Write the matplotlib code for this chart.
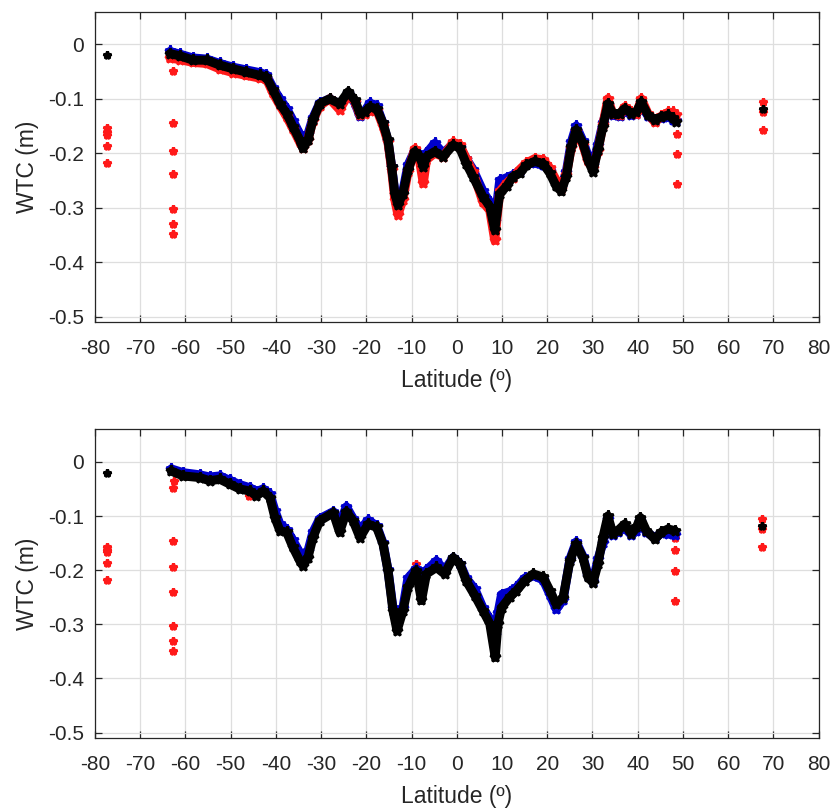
import matplotlib
matplotlib.use("Agg")
import matplotlib.pyplot as plt
from matplotlib.ticker import FormatStrFormatter

plt.rcParams['font.family'] = ['Liberation Sans', 'DejaVu Sans']
plt.rcParams['axes.unicode_minus'] = False

# ---- top panel: main track (lat, WTC in m) ----
lat_top = [-63.4, -61.2, -58.3, -55.3, -52.4, -49.4, -46.5, -43.5, -42.1, -40.6,
           -39.1, -37.6, -36.2, -34.7, -34.0, -32.9, -31.8, -30.3, -28.1, -25.9,
           -24.0, -22.5, -21.4, -20.3, -19.2, -17.7, -16.3, -15.2, -14.4, -13.7,
           -13.0, -11.9, -10.8, -9.3, -8.2, -7.4, -6.7, -4.9, -3.0, -0.8,
           0.7, 2.1, 3.6, 5.8, 7.3, 8.4, 9.5, 11.0, 12.4, 13.9,
           15.4, 17.2, 19.1, 20.6, 22.0, 23.1, 24.2, 25.3, 26.4, 27.9,
           29.0, 30.1, 31.2, 32.3, 33.4, 34.5, 36.0, 37.1, 38.6, 39.7,
           40.8, 42.3, 43.8, 45.2, 46.7, 47.8, 48.5]
top_black = [-0.017, -0.021, -0.029, -0.029, -0.038, -0.045, -0.051, -0.057, -0.060, -0.084,
             -0.109, -0.127, -0.151, -0.176, -0.191, -0.176, -0.139, -0.109, -0.100, -0.109,
             -0.087, -0.103, -0.127, -0.124, -0.115, -0.118, -0.145, -0.176, -0.225, -0.274,
             -0.295, -0.274, -0.231, -0.197, -0.206, -0.225, -0.206, -0.197, -0.206, -0.185,
             -0.191, -0.219, -0.243, -0.280, -0.298, -0.341, -0.274, -0.261, -0.243, -0.237,
             -0.222, -0.215, -0.219, -0.237, -0.261, -0.270, -0.243, -0.188, -0.157, -0.182,
             -0.212, -0.234, -0.194, -0.151, -0.109, -0.127, -0.127, -0.118, -0.127, -0.124,
             -0.106, -0.130, -0.139, -0.133, -0.130, -0.136, -0.142]
top_red = [-0.025, -0.028, -0.033, -0.035, -0.045, -0.052, -0.057, -0.062, -0.063, -0.090,
           -0.112, -0.133, -0.155, -0.180, -0.190, -0.175, -0.140, -0.113, -0.100, -0.120,
           -0.093, -0.105, -0.130, -0.128, -0.122, -0.120, -0.150, -0.180, -0.230, -0.285,
           -0.313, -0.285, -0.235, -0.192, -0.215, -0.255, -0.212, -0.200, -0.206, -0.180,
           -0.185, -0.210, -0.235, -0.290, -0.305, -0.360, -0.270, -0.255, -0.245, -0.230,
           -0.218, -0.210, -0.212, -0.228, -0.250, -0.265, -0.240, -0.190, -0.160, -0.185,
           -0.215, -0.228, -0.195, -0.148, -0.100, -0.128, -0.130, -0.115, -0.125, -0.128,
           -0.100, -0.128, -0.143, -0.132, -0.125, -0.125, -0.130]
top_blue = [-0.013, -0.018, -0.025, -0.027, -0.035, -0.042, -0.047, -0.052, -0.056, -0.080,
            -0.100, -0.118, -0.140, -0.165, -0.178, -0.165, -0.135, -0.108, -0.100, -0.110,
            -0.090, -0.108, -0.132, -0.122, -0.108, -0.113, -0.145, -0.178, -0.225, -0.270,
            -0.292, -0.270, -0.222, -0.195, -0.205, -0.215, -0.200, -0.182, -0.200, -0.183,
            -0.188, -0.210, -0.230, -0.270, -0.290, -0.325, -0.250, -0.245, -0.240, -0.232,
            -0.220, -0.218, -0.222, -0.232, -0.255, -0.262, -0.235, -0.180, -0.150, -0.178,
            -0.205, -0.222, -0.185, -0.145, -0.112, -0.130, -0.132, -0.122, -0.130, -0.128,
            -0.110, -0.132, -0.140, -0.135, -0.133, -0.138, -0.140]

# isolated points, top panel
top_red_pts_lat = [-77.4, -77.4, -77.4, -77.4, -77.4,
                   -62.8, -62.8, -62.8, -62.8, -62.8, -62.8, -62.8,
                   48.7, 48.7, 48.7, 67.8, 67.8, 67.8]
top_red_pts_wtc = [-0.154, -0.161, -0.167, -0.186, -0.218,
                   -0.049, -0.145, -0.195, -0.239, -0.302, -0.330, -0.349,
                   -0.164, -0.202, -0.257, -0.106, -0.124, -0.157]
top_black_pts_lat = [-77.4, 67.8]
top_black_pts_wtc = [-0.020, -0.119]

# ---- bottom panel: main track ----
lat_bot = [-63.1, -60.5, -56.8, -54.6, -52.4, -50.2, -48.0, -45.7, -44.3, -42.8,
           -41.3, -40.2, -39.1, -37.6, -36.2, -34.7, -34.0, -32.9, -31.8, -30.3,
           -27.3, -25.9, -24.4, -22.9, -21.4, -19.6, -17.7, -16.3, -15.2, -14.1,
           -13.2, -11.9, -10.8, -9.0, -7.8, -6.7, -4.5, -2.7, -0.8, 0.7,
           2.1, 4.0, 5.8, 7.3, 8.5, 9.1, 9.9, 11.7, 13.2, 15.0,
           16.9, 19.1, 20.6, 22.0, 23.5, 25.0, 26.4, 27.9, 29.0, 30.1,
           31.2, 32.3, 33.4, 34.5, 35.6, 37.1, 38.6, 39.7, 40.6, 41.9,
           43.8, 45.2, 46.7, 48.2]
bot_black = [-0.017, -0.026, -0.029, -0.035, -0.032, -0.041, -0.050, -0.054, -0.063, -0.054,
             -0.066, -0.103, -0.127, -0.130, -0.158, -0.183, -0.192, -0.177, -0.140, -0.109,
             -0.094, -0.130, -0.092, -0.109, -0.140, -0.115, -0.121, -0.152, -0.201, -0.275,
             -0.312, -0.275, -0.232, -0.201, -0.256, -0.207, -0.195, -0.207, -0.177, -0.189,
             -0.220, -0.247, -0.275, -0.299, -0.361, -0.299, -0.269, -0.250, -0.238, -0.220,
             -0.207, -0.213, -0.238, -0.263, -0.251, -0.183, -0.152, -0.177, -0.213, -0.223,
             -0.189, -0.140, -0.100, -0.133, -0.127, -0.115, -0.133, -0.121, -0.103, -0.127,
             -0.143, -0.130, -0.124, -0.127]
bot_blue = [-0.013, -0.020, -0.024, -0.028, -0.026, -0.034, -0.042, -0.048, -0.055, -0.050,
            -0.060, -0.090, -0.115, -0.125, -0.145, -0.168, -0.175, -0.165, -0.130, -0.105,
            -0.092, -0.115, -0.083, -0.105, -0.125, -0.108, -0.118, -0.150, -0.200, -0.270,
            -0.295, -0.270, -0.215, -0.198, -0.215, -0.200, -0.183, -0.200, -0.177, -0.188,
            -0.215, -0.235, -0.270, -0.290, -0.320, -0.280, -0.245, -0.240, -0.232, -0.215,
            -0.210, -0.218, -0.245, -0.272, -0.255, -0.180, -0.148, -0.175, -0.210, -0.222,
            -0.180, -0.150, -0.105, -0.135, -0.130, -0.122, -0.135, -0.128, -0.110, -0.130,
            -0.140, -0.132, -0.133, -0.135]

bot_red_pts_lat = [-77.3, -77.3, -77.3, -77.3, -77.3,
                   -62.8, -62.6, -62.8, -62.8, -62.8, -62.8, -62.8, -62.8,
                   -46.0, -9.0,
                   48.3, 48.3, 48.3, 48.3, 67.5, 67.5, 67.5]
bot_red_pts_wtc = [-0.157, -0.163, -0.167, -0.187, -0.218,
                   -0.049, -0.035, -0.146, -0.194, -0.240, -0.303, -0.330, -0.349,
                   -0.063, -0.189,
                   -0.140, -0.163, -0.202, -0.257, -0.106, -0.124, -0.157]
bot_black_pts_lat = [-77.3, 67.5]
bot_black_pts_wtc = [-0.020, -0.119]

xticks = list(range(-80, 81, 10))
yticks = [0, -0.1, -0.2, -0.3, -0.4, -0.5]
ink = '#262626'

fig = plt.figure(figsize=(8.32, 8.10), dpi=100)
ax_top = fig.add_axes([0.114, 0.6025, 0.870, 0.383])
ax_bot = fig.add_axes([0.114, 0.0889, 0.870, 0.381])


def track(ax, lat, wtc, color):
    ax.plot(lat, wtc, '-', color=color, lw=6.5, solid_joinstyle='round',
            solid_capstyle='round', zorder=3)
    ax.plot(lat, wtc, '*', color=color, ms=8, mew=2, zorder=3)


def dots(ax, lat, wtc, color, z=4):
    ax.plot(lat, wtc, '*', color=color, ms=6, mew=2.2, ls='none', zorder=z)


track(ax_top, lat_top, top_blue, '#0000cc')
track(ax_top, lat_top, top_red, '#ff1a1a')
track(ax_top, lat_top, top_black, 'black')
dots(ax_top, top_red_pts_lat, top_red_pts_wtc, '#ff1a1a')
dots(ax_top, top_black_pts_lat, top_black_pts_wtc, 'black', 5)

track(ax_bot, lat_bot, bot_blue, '#0000cc')
track(ax_bot, lat_bot, bot_black, 'black')
dots(ax_bot, bot_red_pts_lat, bot_red_pts_wtc, '#ff1a1a', 2.5)
dots(ax_bot, bot_black_pts_lat, bot_black_pts_wtc, 'black', 5)

for ax in (ax_top, ax_bot):
    ax.set_xlim(-80, 80)
    ax.set_ylim(-0.51, 0.06)
    ax.set_xticks(xticks)
    ax.set_yticks(yticks)
    ax.yaxis.set_major_formatter(FormatStrFormatter('%g'))
    ax.grid(True, color='#dedede', lw=0.9)
    ax.set_axisbelow(True)
    ax.tick_params(direction='in', top=True, right=True, length=5, width=0.9,
                   colors=ink, labelsize=15)
    ax.tick_params(axis='x', pad=12)
    ax.tick_params(axis='y', pad=8)
    for s in ax.spines.values():
        s.set_color(ink)
        s.set_linewidth(0.9)
    ax.set_xlabel('Latitude (º)', fontsize=16.5, color=ink, labelpad=8)
    ax.set_ylabel('WTC (m)', fontsize=16.5, color=ink, labelpad=6)

fig.savefig('out.png', dpi=100)
